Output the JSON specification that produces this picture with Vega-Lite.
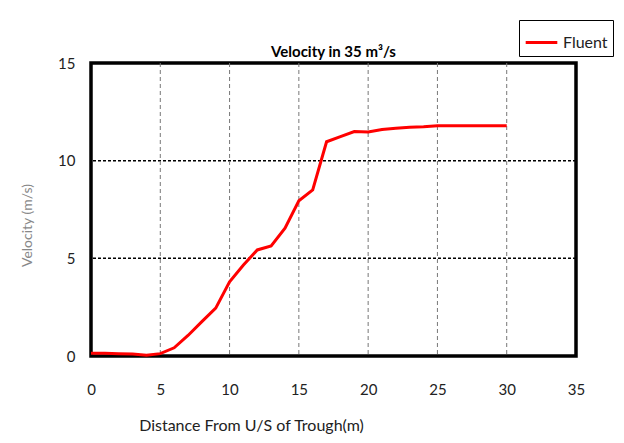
{
  "$schema": "https://vega.github.io/schema/vega-lite/v6.json",
  "autosize": "none",
  "width": 485,
  "height": 293,
  "padding": {"left": 91, "top": 63, "right": 48, "bottom": 87},
  "background": "white",
  "title": {
    "text": "Velocity in 35  m³/s",
    "font": "Lato",
    "fontSize": 15,
    "fontWeight": "bold",
    "color": "#000000",
    "anchor": "middle",
    "offset": -40
  },
  "data": {
    "values": [
      {"series": "Fluent", "distance": 0, "velocity": 0.14},
      {"series": "Fluent", "distance": 1, "velocity": 0.14},
      {"series": "Fluent", "distance": 2, "velocity": 0.12},
      {"series": "Fluent", "distance": 3, "velocity": 0.1},
      {"series": "Fluent", "distance": 4, "velocity": 0.04},
      {"series": "Fluent", "distance": 5, "velocity": 0.12},
      {"series": "Fluent", "distance": 6, "velocity": 0.42},
      {"series": "Fluent", "distance": 7, "velocity": 1.05},
      {"series": "Fluent", "distance": 8, "velocity": 1.76},
      {"series": "Fluent", "distance": 9, "velocity": 2.45},
      {"series": "Fluent", "distance": 10, "velocity": 3.8},
      {"series": "Fluent", "distance": 11, "velocity": 4.66},
      {"series": "Fluent", "distance": 12, "velocity": 5.43},
      {"series": "Fluent", "distance": 13, "velocity": 5.63},
      {"series": "Fluent", "distance": 14, "velocity": 6.54},
      {"series": "Fluent", "distance": 15, "velocity": 7.95},
      {"series": "Fluent", "distance": 16, "velocity": 8.5},
      {"series": "Fluent", "distance": 17, "velocity": 10.97},
      {"series": "Fluent", "distance": 18, "velocity": 11.23},
      {"series": "Fluent", "distance": 19, "velocity": 11.49},
      {"series": "Fluent", "distance": 20, "velocity": 11.47},
      {"series": "Fluent", "distance": 21, "velocity": 11.6},
      {"series": "Fluent", "distance": 22, "velocity": 11.66},
      {"series": "Fluent", "distance": 23, "velocity": 11.71},
      {"series": "Fluent", "distance": 24, "velocity": 11.74},
      {"series": "Fluent", "distance": 25, "velocity": 11.79},
      {"series": "Fluent", "distance": 30, "velocity": 11.79}
    ]
  },
  "layer": [
    {
      "mark": {"type": "rule", "stroke": "#000000", "strokeWidth": 1.5, "strokeDash": [3, 2]},
      "data": {"values": [{"v": 5}, {"v": 10}]},
      "encoding": {"y": {"field": "v", "type": "quantitative", "scale": {"domain": [0, 15]}}}
    },
    {
      "mark": {"type": "rule", "stroke": "#777777", "strokeWidth": 1, "strokeDash": [4, 3]},
      "data": {"values": [{"d": 5}, {"d": 10}, {"d": 15}, {"d": 20}, {"d": 25}, {"d": 30}]},
      "encoding": {"x": {"field": "d", "type": "quantitative", "scale": {"domain": [0, 35]}}}
    },
    {
      "mark": {"type": "line", "color": "#ff0000", "strokeWidth": 3, "interpolate": "linear"},
      "encoding": {
        "x": {
          "field": "distance",
          "type": "quantitative",
          "scale": {"domain": [0, 35], "nice": false},
          "axis": {
            "title": "Distance From U/S  of Trough(m)",
            "values": [0, 5, 10, 15, 20, 25, 30, 35],
            "grid": false,
            "domain": false,
            "ticks": false,
            "labelFlush": false,
            "labelPadding": 26,
            "labelFontSize": 15,
            "labelColor": "#222222",
            "labelFont": "Lato",
            "titleFont": "Lato",
            "titleFontSize": 16,
            "titleFontWeight": "normal",
            "titleColor": "#222222",
            "titleX": 160,
            "titlePadding": 20
          }
        },
        "y": {
          "field": "velocity",
          "type": "quantitative",
          "scale": {"domain": [0, 15], "nice": false},
          "axis": {
            "title": "Velocity (m/s)",
            "values": [0, 5, 10, 15],
            "grid": false,
            "domain": false,
            "ticks": false,
            "labelFlush": false,
            "labelPadding": 16,
            "labelFontSize": 15,
            "labelColor": "#222222",
            "labelFont": "Lato",
            "titleFont": "Lato",
            "titleFontSize": 14,
            "titleFontWeight": "normal",
            "titleColor": "#888888",
            "titleX": -57,
            "titleY": 162,
            "titlePadding": 30
          }
        },
        "color": {
          "field": "series",
          "type": "nominal",
          "scale": {"range": ["#ff0000"]},
          "legend": {
            "title": null,
            "orient": "none",
            "legendX": 428,
            "legendY": -43,
            "symbolType": "stroke",
            "symbolSize": 1000,
            "symbolStrokeWidth": 3,
            "labelFontSize": 16,
            "labelFont": "Lato",
            "labelColor": "#222222",
            "strokeColor": "#000000",
            "padding": 5,
            "labelOffset": 4
          }
        }
      }
    }
  ],
  "config": {
    "view": {"stroke": "#000000", "strokeWidth": 3.5}
  }
}
